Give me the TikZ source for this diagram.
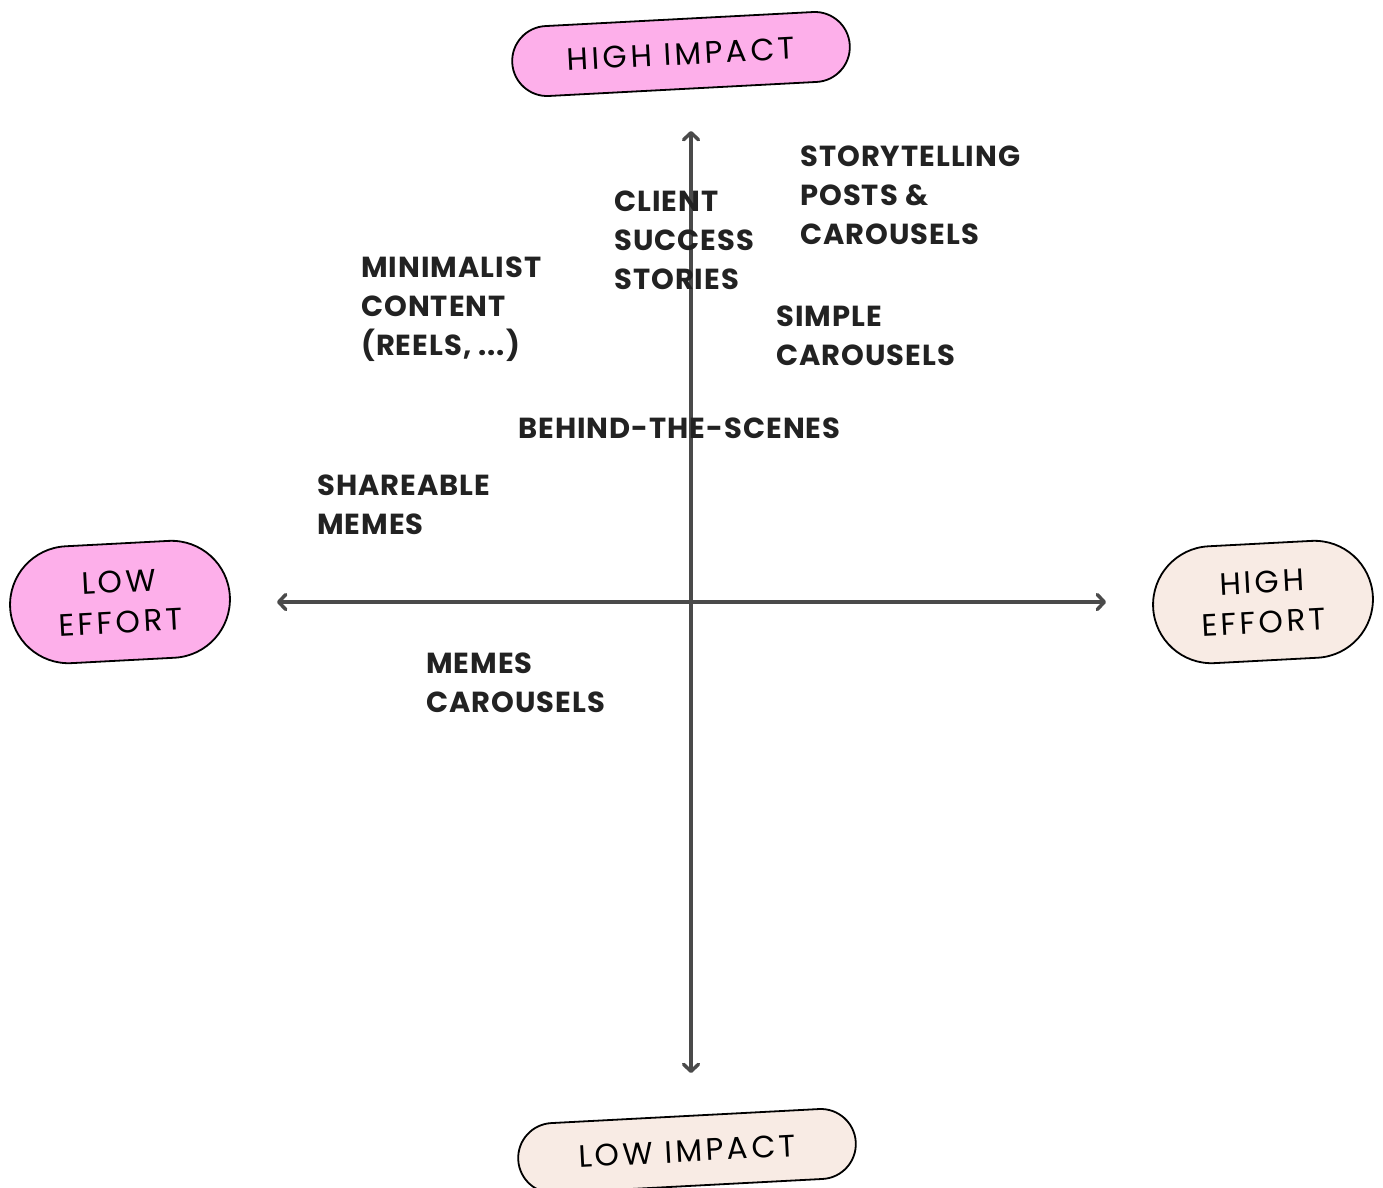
\documentclass[tikz,border=0pt]{standalone}
\usepackage{fontspec}
\setsansfont{Poppins}
\newfontfamily\pillfont[LetterSpace=11]{Poppins}
\newfontfamily\lblfont[LetterSpace=3.5]{Poppins}
\usetikzlibrary{arrows.meta,shapes.misc}
\definecolor{pinkc}{HTML}{FDAFEA}
\definecolor{creamc}{HTML}{F8EBE4}
\definecolor{axisc}{HTML}{4A4A4A}
\definecolor{textc}{HTML}{222222}
\tikzset{
  pill/.style={rounded rectangle, draw=black, line width=1.8pt, inner sep=0pt,
    font=\pillfont\fontsize{31}{40}\selectfont, text=black, align=center},
  hpill/.style={pill, minimum width=338pt, minimum height=70pt, rotate=3},
  vpill/.style={pill, minimum width=220pt, minimum height=117pt, rotate=3},
  lbl/.style={anchor=base west, inner sep=0pt, align=left, text=textc,
    font=\lblfont\bfseries\fontsize{29}{39}\selectfont},
  axis/.style={draw=axisc, line width=3.5pt,
    arrows={Straight Barb[length=7pt,width=15pt,line cap=round,line join=round]-Straight Barb[length=7pt,width=15pt,line cap=round,line join=round]}}
}
\begin{document}
\begin{tikzpicture}[x=1pt,y=-1pt]
\useasboundingbox (0,0) rectangle (1383,1187);
% axes
\coordinate (top) at (691,131);
\coordinate (bot) at (691,1073);
\coordinate (lft) at (277,602);
\coordinate (rgt) at (1106,602);
\draw[axis] (bot) -- (top);
\draw[axis] (lft) -- (rgt);
% pills
\node[hpill, fill=pinkc] (hi) at (681,54) {HIGH IMPACT};
\node[hpill, fill=creamc] (li) at (687,1151) {LOW IMPACT};
\node[vpill, fill=pinkc] (le) at (120,602) {LOW\\EFFORT};
\node[vpill, fill=creamc] (he) at (1263,602) {HIGH\\EFFORT};
% labels (anchored at the baseline of the last line)
\node[lbl] (story) at (800,244) {STORYTELLING\\POSTS \&\\CAROUSELS};
\node[lbl] (client) at (614,289) {CLIENT\\SUCCESS\\STORIES};
\node[lbl] (mini) at (361,355) {MINIMALIST\\CONTENT\\(REELS, ...)};
\node[lbl] (simple) at (776,365) {SIMPLE\\CAROUSELS};
\node[lbl] (behind) at (518,438) {BEHIND-THE-SCENES};
\node[lbl] (share) at (317,534) {SHAREABLE\\MEMES};
\node[lbl] (memes) at (426,712) {MEMES\\CAROUSELS};
\end{tikzpicture}
\end{document}
